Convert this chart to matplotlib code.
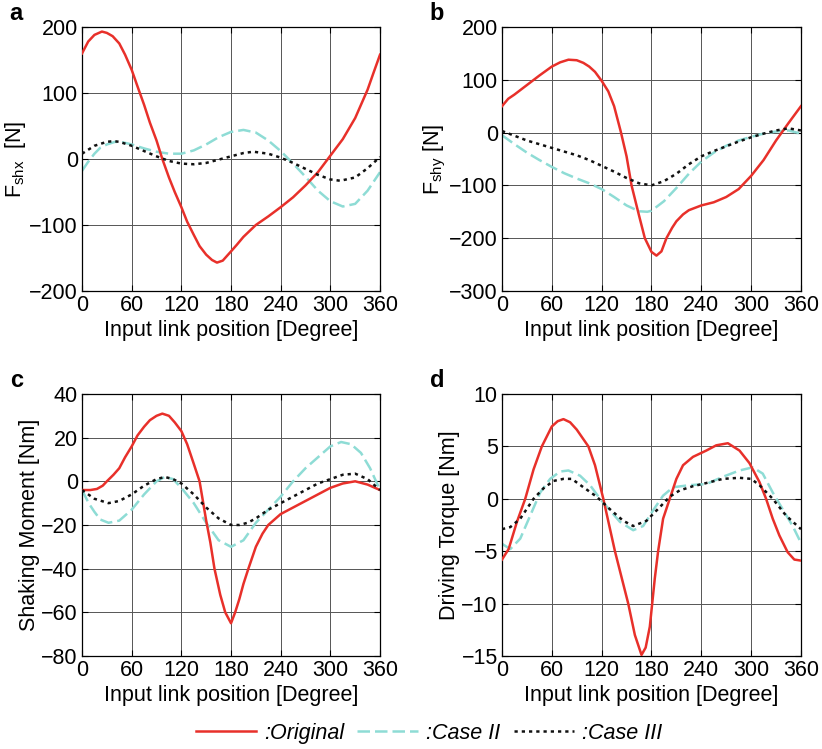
import numpy as np
import matplotlib
matplotlib.use('Agg')
import matplotlib.pyplot as plt
from matplotlib.lines import Line2D

plt.rcParams['font.family'] = ['Liberation Sans', 'DejaVu Sans']
plt.rcParams['mathtext.fontset'] = 'custom'
plt.rcParams['mathtext.rm'] = 'Liberation Sans'
plt.rcParams['mathtext.it'] = 'Liberation Sans:italic'

RED = '#e8302a'
CYAN = '#8edcd5'
BLACK = '#111111'
FS = 15.5

# ---- panel a : F_shx ----
a_x_orig = [0, 7.5, 15, 24, 30, 37, 45, 52, 60, 67, 75, 82, 90, 97, 105, 112, 120, 127, 135, 142, 150, 157, 163,
            170, 180, 187, 195, 210, 225, 240, 255, 270, 285, 300, 315, 330, 345, 352, 360]
a_orig = [160, 178, 188, 193, 191, 186, 175, 158, 135, 110, 82, 55, 28, 0, -28, -50, -73, -95, -115, -132, -145, -153, -157,
          -154, -140, -130, -118, -100, -87, -73, -58, -40, -20, 5, 30, 62, 105, 130, 158]
a_x2 = [0, 7, 15, 22, 30, 40, 50, 60, 75, 90, 105, 120, 135, 150, 165, 180, 195, 210, 225, 240, 255, 270, 285, 300,
        315, 330, 345, 360]
a_case2 = [-18, -5, 8, 17, 22, 26, 25, 22, 16, 11, 8, 8, 13, 22, 33, 41, 44, 40, 28, 12, -7, -27, -48, -64,
           -72, -68, -48, -20]
a_x3 = [0, 15, 30, 38, 45, 60, 75, 90, 105, 120, 135, 150, 165, 180, 195, 207, 225, 240, 255, 270, 285, 300, 312,
        330, 345, 360]
a_case3 = [8, 20, 26, 27, 26, 20, 12, 4, -3, -7, -8, -6, -1, 4, 9, 11, 8, 2, -6, -15, -24, -31, -33,
           -28, -14, 3]

# ---- panel b : F_shy ----
b_x_orig = [0, 7.5, 15, 30, 45, 60, 70, 80, 90, 98, 105, 112, 120, 128, 135, 143, 150, 156, 165, 172, 180, 186,
            192, 198, 205, 210, 218, 225, 240, 255, 270, 285, 300, 315, 330, 345, 360]
b_orig = [50, 64, 72, 90, 108, 125, 133, 138, 137, 132, 125, 115, 98, 78, 50, 2, -45, -100, -157, -200, -226, -233,
          -225, -200, -180, -168, -155, -147, -138, -132, -122, -107, -82, -52, -15, 18, 50]
b_x2 = [0, 15, 30, 45, 60, 75, 90, 105, 120, 135, 150, 165, 175, 180, 195, 210, 225, 240, 255, 270, 285, 300,
        315, 330, 345, 360]
b_case2 = [-5, -22, -38, -52, -65, -77, -87, -96, -107, -122, -138, -149, -150, -148, -130, -105, -78, -55, -38,
           -25, -15, -8, -2, 2, 4, -2]
b_x3 = [0, 15, 30, 45, 60, 75, 90, 105, 120, 135, 150, 165, 180, 195, 210, 225, 240, 255, 270, 285, 300, 315,
        330, 345, 360]
b_case3 = [3, -6, -15, -22, -29, -36, -43, -52, -63, -74, -86, -96, -100, -92, -78, -60, -45, -35, -26, -17, -9,
           -2, 4, 8, 4]

# ---- panel c : shaking moment ----
c_x_orig = [0, 10, 18, 25, 30, 38, 45, 52, 60, 67, 75, 82, 90, 97, 105, 112, 120, 127, 135, 142, 150, 155, 160,
            167, 173, 180, 185, 190, 195, 201, 210, 218, 225, 240, 255, 270, 285, 300, 315, 330, 345, 360]
c_orig = [-4, -4, -3.5, -2, 0, 3, 6, 11, 16, 21, 25, 28, 30, 31, 30, 27, 23, 17, 8, 0, -18, -28, -40,
          -52, -60, -65, -60, -54, -47, -40, -30, -24, -20, -15, -12, -9, -6, -3, -1, 0, -1.5, -4]
c_x2 = [0, 8, 15, 22, 32, 45, 60, 75, 90, 100, 110, 120, 135, 150, 165, 180, 195, 210, 225, 240, 255, 270, 285,
        300, 313, 325, 337, 348, 360]
c_case2 = [-4, -10, -14, -17.5, -19, -18, -13, -6, 0, 2, 1, -3, -10, -19, -27, -30, -27, -19, -13, -7, 0, 6, 11,
           16, 18, 17, 13, 6, -4]
c_x3 = [0, 15, 32, 45, 60, 75, 90, 100, 110, 120, 135, 150, 165, 180, 190, 200, 210, 225, 240, 255, 270, 285, 300,
        315, 330, 345, 360]
c_case3 = [-4, -8, -10, -9, -6, -2, 1, 2, 1, -1, -6, -12, -17, -20, -20, -19, -17, -13, -10, -7, -4, -1, 1,
           3, 3.5, 1, -4]

# ---- panel d : driving torque ----
d_x_orig = [0, 8, 18, 28, 38, 48, 60, 67, 74, 82, 90, 97, 104, 112, 122, 136, 144, 152, 160, 168, 173, 178, 184,
            188, 194, 202, 210, 218, 230, 246, 258, 272, 286, 298, 310, 318, 326, 334, 344, 352, 360]
d_orig = [-5.8, -4.8, -2.2, 0, 2.8, 5.0, 6.9, 7.4, 7.6, 7.3, 6.6, 5.8, 5.0, 3.2, 0, -5.0, -7.5, -10, -13, -14.9,
          -14.2, -12.2, -7.6, -5.0, -1.9, 0, 1.9, 3.2, 4.0, 4.6, 5.1, 5.3, 4.6, 3.4, 1.6, 0, -1.9, -3.5, -5.1, -5.8, -5.9]
d_x2 = [0, 10, 22, 34, 46, 58, 70, 80, 94, 106, 118, 130, 142, 158, 170, 182, 194, 206, 226, 246, 266, 286, 302,
        314, 326, 338, 350, 360]
d_case2 = [-4.3, -4.8, -3.8, -1.6, 0.6, 1.9, 2.6, 2.7, 2.2, 1.3, 0, -1.1, -2.2, -3.0, -2.6, -1.1, 0.3, 1.1, 1.3,
           1.4, 2.1, 2.7, 3.0, 2.4, 0.6, -1.0, -2.6, -4.2]
d_x3 = [0, 10, 22, 38, 50, 62, 74, 84, 98, 114, 130, 146, 158, 174, 190, 202, 214, 230, 246, 266, 286, 300, 310,
        326, 342, 360]
d_case3 = [-2.9, -2.7, -1.9, 0, 1.0, 1.7, 1.9, 1.9, 1.1, 0.2, -1.0, -2.1, -2.6, -2.1, -0.8, 0.2, 0.8, 1.2, 1.5,
           1.9, 2.0, 1.9, 1.3, 0, -1.6, -2.9]

xticks = [0, 60, 120, 180, 240, 300, 360]

panels = [
    ('a', [0.0998, 0.6115, 0.3625, 0.3525], r'F$_{\rm shx}$  [N]', (-200, 200), [-200, -100, 0, 100, 200],
     (a_x_orig, a_orig), (a_x2, a_case2), (a_x3, a_case3)),
    ('b', [0.6107, 0.6115, 0.3637, 0.3525], r'F$_{\rm shy}$ [N]', (-300, 200), [-300, -200, -100, 0, 100, 200],
     (b_x_orig, b_orig), (b_x2, b_case2), (b_x3, b_case3)),
    ('c', [0.0998, 0.1242, 0.3625, 0.3498], 'Shaking Moment [Nm]', (-80, 40), [-80, -60, -40, -20, 0, 20, 40],
     (c_x_orig, c_orig), (c_x2, c_case2), (c_x3, c_case3)),
    ('d', [0.6107, 0.1242, 0.3637, 0.3498], 'Driving Torque [Nm]', (-15, 10), [-15, -10, -5, 0, 5, 10],
     (d_x_orig, d_orig), (d_x2, d_case2), (d_x3, d_case3)),
]

DASH = (0, (5, 2))
DOT = (0, (1.3, 1.6))

fig = plt.figure(figsize=(8.22, 7.49), dpi=100)

for letter, rect, ylab, ylim, yticks, orig, case2, case3 in panels:
    ax = fig.add_axes(rect)
    ax.plot(orig[0], orig[1], color=RED, lw=1.8, zorder=3)
    ax.plot(case2[0], case2[1], color=CYAN, lw=1.8, ls=DASH, zorder=2)
    ax.plot(case3[0], case3[1], color=BLACK, lw=1.8, ls=DOT, zorder=4)
    ax.set_xlim(0, 360)
    ax.set_ylim(*ylim)
    ax.set_xticks(xticks)
    ax.set_yticks(yticks)
    ax.set_yticklabels([str(t).replace('-', '\u2212') for t in yticks])
    ax.grid(True, color='#555555', lw=0.7)
    ax.tick_params(direction='in', top=True, right=True, labelsize=FS, length=4, pad=3)
    ax.set_xlabel('Input link position [Degree]', fontsize=FS, labelpad=3)
    ax.set_ylabel(ylab, fontsize=FS, labelpad=1)
    for s in ax.spines.values():
        s.set_linewidth(0.9)
    fig.text(rect[0] - 0.088, rect[1] + rect[3] + 0.003, letter, fontsize=17, fontweight='bold', va='bottom')

handles = [Line2D([], [], color=RED, lw=1.8),
           Line2D([], [], color=CYAN, lw=1.8, ls=DASH),
           Line2D([], [], color=BLACK, lw=1.8, ls=DOT)]
fig.legend(handles, [':Original', ':Case II', ':Case III'], loc='center', bbox_to_anchor=(0.522, 0.021),
           ncol=3, frameon=False, handlelength=2.8, handletextpad=0.4, columnspacing=0.6,
           prop={'style': 'italic', 'size': FS})

fig.savefig('out.png', dpi=100)
